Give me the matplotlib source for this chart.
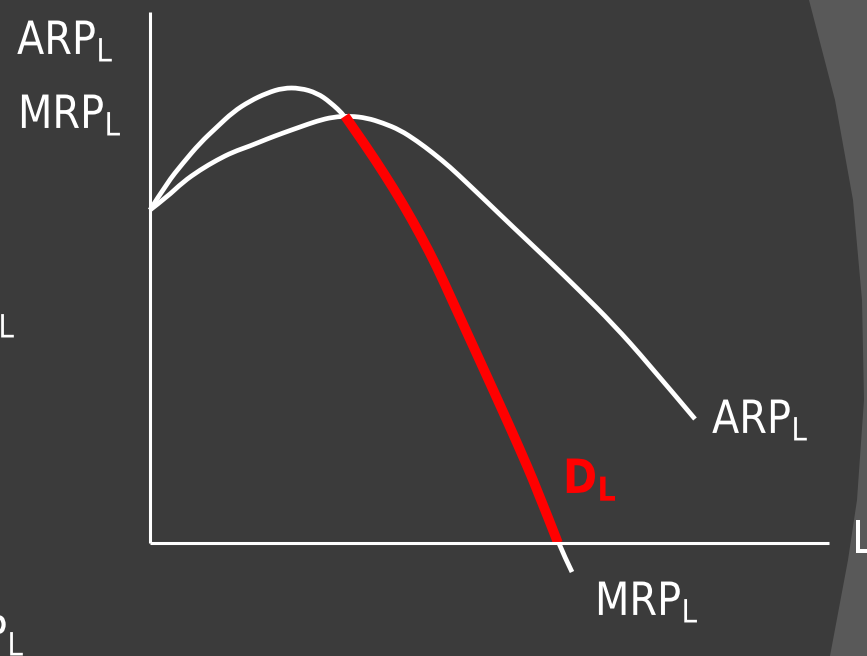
import matplotlib
matplotlib.use("Agg")
import matplotlib.pyplot as plt
from matplotlib.patches import PathPatch
from matplotlib.path import Path
from matplotlib.patheffects import AbstractPathEffect
from matplotlib.transforms import Affine2D

# curve points, L on x, revenue product on y
mrp_L = [0, 1.7, 3.3, 5.0, 6.7, 8.3, 10.0, 11.7, 13.3, 15.0, 16.7, 18.0, 19.5,
         21.6, 23.5, 25.3, 27.1, 28.7, 30.2, 33.0, 35.0, 36.8, 38.7, 40.8, 42.2]
mrp_v = [33.3, 36.0, 38.0, 40.0, 41.6, 43.1, 44.2, 45.0, 45.5, 45.5, 45.0, 44.1, 42.7,
         39.7, 36.8, 33.9, 30.7, 27.6, 24.3, 18.2, 13.8, 9.8, 5.4, 0.0, -2.9]
arp_L = [0, 1.7, 3.3, 5.0, 6.7, 8.3, 10.0, 11.7, 13.3, 15.0, 16.7, 18.3, 20.0,
         21.7, 23.3, 25.0, 26.7, 28.3, 30.0, 31.7, 33.7, 36.3, 39.7, 43.0, 46.3,
         49.7, 54.5]
arp_v = [33.3, 34.6, 36.1, 37.3, 38.3, 39.1, 39.7, 40.4, 41.0, 41.6, 42.2, 42.6, 42.7,
         42.5, 42.0, 41.3, 40.2, 39.0, 37.6, 36.0, 34.1, 31.6, 28.4, 25.2, 21.9,
         18.1, 12.4]
# demand = MRP from the ARP peak down to the L axis
d_start, d_end = 12, 23

# slide decoration on the right edge (lighter band)
deco_x = [65.9, 68.5, 70.3, 71.2, 71.4, 70.7, 69.8, 68.0, 71.7, 71.7]
deco_y = [54.3, 44.3, 34.3, 24.3, 14.3, 4.3, -1.7, -11.3, -11.3, 54.3]

BG = "#3b3b3b"


class Squeeze(AbstractPathEffect):
    """narrow the glyphs a bit, the slide font is tighter than DejaVu"""

    def __init__(self, sx):
        super().__init__()
        self.sx = sx

    def draw_path(self, renderer, gc, tpath, affine, rgbFace=None):
        renderer.draw_path(gc, tpath, Affine2D().scale(self.sx, 1) + affine, rgbFace)


def curve(xs, ys):
    # quadratic bezier through the midpoints, so the hand drawn curves stay smooth
    pts = list(zip(xs, ys))
    verts = [pts[0]]
    codes = [Path.MOVETO]
    for i in range(1, len(pts) - 1):
        if i == len(pts) - 2:
            end = pts[-1]
        else:
            end = ((pts[i][0] + pts[i + 1][0]) / 2, (pts[i][1] + pts[i + 1][1]) / 2)
        verts += [pts[i], end]
        codes += [Path.CURVE3, Path.CURVE3]
    return Path(verts, codes)


sq = [Squeeze(0.87)]

fig = plt.figure(figsize=(8.67, 6.56), dpi=100, facecolor=BG)
ax = fig.add_axes([0, 0, 1, 1])
ax.set_facecolor(BG)
ax.set_xlim(-15, 71.7)
ax.set_ylim(-11.3, 54.3)
ax.axis("off")

ax.fill(deco_x, deco_y, color="#595959", lw=0)

# axes of the diagram
ax.plot([0, 0], [0, 53.1], color="white", lw=2.2, solid_capstyle="butt")
ax.plot([0, 67.9], [0, 0], color="white", lw=2.2, solid_capstyle="butt")

line = dict(fill=False, capstyle="butt", joinstyle="round")
ax.add_patch(PathPatch(curve(arp_L, arp_v), edgecolor="white", lw=3.4, **line))
ax.add_patch(PathPatch(curve(mrp_L, mrp_v), edgecolor="white", lw=3.4, **line))
ax.add_patch(PathPatch(curve(mrp_L[d_start:d_end + 1], mrp_v[d_start:d_end + 1]),
                       edgecolor="#ff0000", lw=7.0, **line))

txt = dict(color="white", fontsize=33, ha="left", va="baseline", path_effects=sq)
ax.text(-13.3, 48.9, r"$\mathregular{ARP_L}$", **txt)
ax.text(-13.2, 41.5, r"$\mathregular{MRP_L}$", **txt)
ax.text(56.2, 11.0, r"$\mathregular{ARP_L}$", **txt)
ax.text(44.5, -7.2, r"$\mathregular{MRP_L}$", **txt)
ax.text(70.2, -1.0, "L", **txt)
ax.text(41.3, 5.0, r"$\mathbf{D_L}$", color="#ff0000", fontsize=34, ha="left",
        va="baseline", path_effects=sq)
# labels of the previous diagram, cut by the left edge
ax.text(-17.6, 21.3, r"$\mathregular{P_L}$", **txt)
ax.text(-16.7, -10.5, r"$\mathregular{P_L}$", **txt)

fig.savefig("out.png", dpi=100, facecolor=BG)
